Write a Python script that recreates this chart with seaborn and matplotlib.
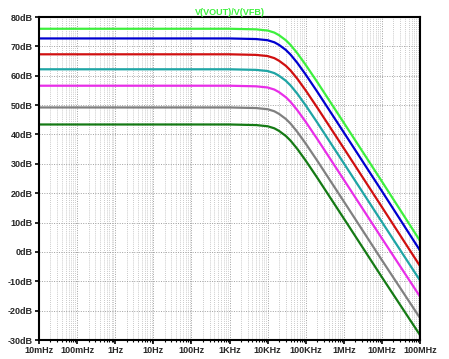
import numpy as np
import pandas as pd
import seaborn as sns
import matplotlib.pyplot as plt
from matplotlib.ticker import LogLocator, FixedLocator, NullFormatter

freqs = [1e-2, 1e3, 5e3, 1e4, 1.5e4, 2e4, 3e4, 4e4, 6e4, 1e5, 2e5, 1e6, 1e7, 1e8]

# gain in dB for each trace
gain_1 = [76.0, 76.0, 75.8, 75.4, 74.7, 73.8, 72.1, 70.5, 67.7, 63.7, 57.9, 44.0, 24.0, 3.8]
gain_2 = [72.7, 72.7, 72.5, 72.1, 71.4, 70.5, 68.8, 67.2, 64.4, 60.4, 54.6, 40.7, 20.7, 0.5]
gain_3 = [67.3, 67.3, 67.1, 66.7, 66.0, 65.1, 63.4, 61.8, 59.0, 55.0, 49.2, 35.3, 15.3, -4.8]
gain_4 = [62.2, 62.2, 62.0, 61.6, 60.9, 60.0, 58.3, 56.7, 53.9, 49.9, 44.1, 30.2, 10.2, -9.7]
gain_5 = [56.6, 56.6, 56.4, 56.0, 55.3, 54.4, 52.7, 51.1, 48.3, 44.3, 38.5, 24.6, 4.6, -15.2]
gain_6 = [49.2, 49.2, 49.0, 48.6, 47.9, 47.0, 45.3, 43.7, 40.9, 36.9, 31.1, 17.2, -2.8, -22.5]
gain_7 = [43.4, 43.4, 43.2, 42.8, 42.1, 41.2, 39.5, 37.9, 35.1, 31.1, 25.3, 11.4, -8.6, -28.3]

traces = ["t1", "t2", "t3", "t4", "t5", "t6", "t7"]
colors = ["#3df03d", "#0000d0", "#d01010", "#1fa5a5", "#e82ee8", "#808080", "#157a15"]

y_ticks = [80, 70, 60, 50, 40, 30, 20, 10, 0, -10, -20, -30]
x_ticks = [1e-2, 1e-1, 1e0, 1e1, 1e2, 1e3, 1e4, 1e5, 1e6, 1e7, 1e8]
x_labels = ["10mHz", "100mHz", "1Hz", "10Hz", "100Hz", "1KHz", "10KHz",
            "100KHz", "1MHz", "10MHz", "100MHz"]

rows = []
for name, g in zip(traces, [gain_1, gain_2, gain_3, gain_4, gain_5, gain_6, gain_7]):
    for f, v in zip(freqs, g):
        rows.append({"freq": f, "gain": v, "trace": name})
df = pd.DataFrame(rows)

sns.set_style("white")
plt.rcParams["font.family"] = ["Liberation Sans", "DejaVu Sans"]

fig = plt.figure(figsize=(4.49, 3.59), dpi=100)
ax = fig.add_axes([0.0869, 0.0529, 0.8485, 0.8997])

sns.lineplot(data=df, x="freq", y="gain", hue="trace", palette=colors,
             linewidth=1.6, legend=False, ax=ax, sort=False)

ax.set_xscale("log")
ax.set_xlim(1e-2, 1e8)
ax.set_ylim(-30, 80)

ax.xaxis.set_major_locator(FixedLocator(x_ticks))
ax.xaxis.set_minor_locator(LogLocator(base=10, subs=np.arange(2, 10), numticks=30))
ax.xaxis.set_minor_formatter(NullFormatter())
ax.set_xticks(x_ticks)
ax.set_xticklabels(x_labels, fontsize=6.5, fontweight="bold")
ax.set_yticks(y_ticks)
ax.set_yticklabels([f"{v}dB" for v in y_ticks], fontsize=6.5, fontweight="bold")

ax.grid(True, which="major", color="#a0a0a0", linestyle=(0, (1, 1.5)), linewidth=0.7)
ax.grid(True, which="minor", axis="x", color="#b8b8b8", linestyle=(0, (1, 1.5)), linewidth=0.6)

ax.tick_params(axis="both", which="major", direction="out", length=3, width=1.2,
               color="black", pad=1.5, bottom=True, left=True)
ax.tick_params(axis="x", which="minor", direction="out", length=1.5, width=0.8,
               color="black", bottom=True)
for s in ax.spines.values():
    s.set_color("black")
    s.set_linewidth(1.5)

ax.set_xlabel("")
ax.set_ylabel("")
ax.set_title("V(VOUT)/V(VFB)", color="#3df03d", fontsize=6.5, fontweight="bold", pad=1.5)

fig.savefig("out.png", dpi=100)
